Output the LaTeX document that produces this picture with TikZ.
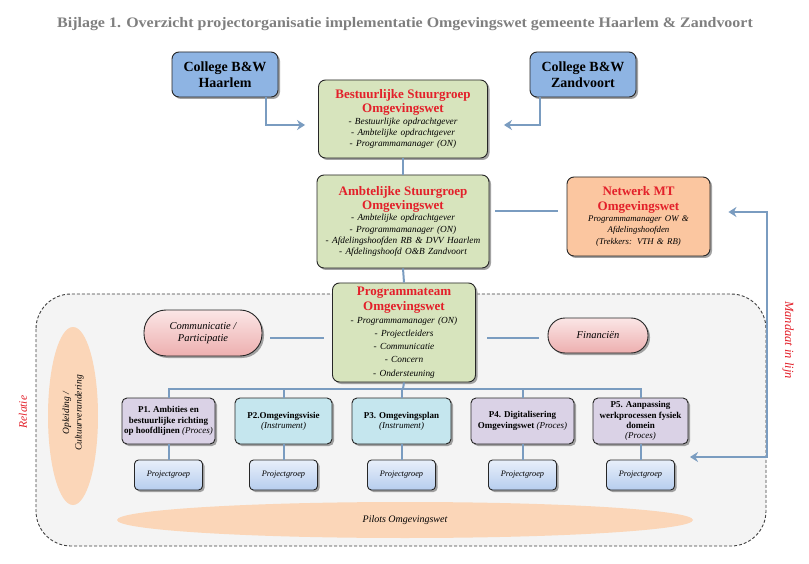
\documentclass[tikz,border=0pt]{standalone}
\usepackage{fontspec}
\setmainfont{Liberation Serif}
\usetikzlibrary{shadows,arrows.meta,calc,shapes.geometric}
\definecolor{titlegray}{HTML}{7F7F7F}
\definecolor{redt}{HTML}{E3202A}
\definecolor{linec}{HTML}{7A9CC0}
\definecolor{collegeblue}{HTML}{8EB4E3}
\definecolor{greenbox}{HTML}{D7E4BD}
\definecolor{orangebox}{HTML}{FBC6A0}
\definecolor{pinktop}{HTML}{FBE6E6}
\definecolor{pinkbot}{HTML}{EDAFAF}
\definecolor{purplebox}{HTML}{DAD2E6}
\definecolor{cyanbox}{HTML}{C5E6EE}
\definecolor{pgtop}{HTML}{E8EFFA}
\definecolor{pgbot}{HTML}{B6CDEE}
\definecolor{ellorange}{HTML}{FBD6B8}
\definecolor{regionfill}{HTML}{F4F4F4}
\newcommand{\myhdr}[1]{{\color{redt}\bfseries\fontsize{13}{14.5}\selectfont #1\par}}
\newcommand{\myitems}[1]{{\itshape\fontsize{9.3}{11.3}\selectfont #1\par}}
\begin{document}
\begin{tikzpicture}[x=1pt,y=-1pt,
  shadowed/.style={drop shadow={shadow xshift=2pt,shadow yshift=-2pt,fill=black!45,opacity=0.8}},
  box/.style={draw=black!85,line width=0.9pt,rounded corners=7pt,align=center,inner sep=2pt,shadowed},
  college/.style={box,fill=collegeblue,minimum width=106,minimum height=45,font=\bfseries\fontsize{14}{15.5}\selectfont},
  greenb/.style={box,fill=greenbox},
  pill/.style={box,rounded corners=17pt,top color=pinktop,bottom color=pinkbot,font=\itshape\fontsize{10.5}{12.5}\selectfont},
  pbox/.style={box,rounded corners=5pt,minimum height=46,font=\bfseries\fontsize{9}{10.3}\selectfont},
  pg/.style={box,rounded corners=4pt,top color=pgtop,bottom color=pgbot,minimum width=68,minimum height=30,font=\itshape\fontsize{8.3}{10}\selectfont},
  conn/.style={draw=linec,line width=2pt},
  arr/.style={conn,-{Stealth[length=8pt,width=10pt]}},
  ell/.style={ellipse,fill=ellorange,inner sep=0pt},
  redlab/.style={text=redt,font=\itshape\fontsize{12.5}{14}\selectfont}
]
\useasboundingbox (0,0) rectangle (809,564);
\fill[white] (0,0) rectangle (809,564);

\node[text=titlegray,xscale=1.1,font=\bfseries\fontsize{14.5}{16}\selectfont] (title) at (405,24)
  {Bijlage 1. Overzicht projectorganisatie implementatie Omgevingswet gemeente Haarlem \& Zandvoort};

% region
\draw[dashed,dash pattern=on 3pt off 2pt,line width=0.9pt,draw=black!75,fill=regionfill,rounded corners=35pt]
  (36,294) rectangle (766,546);

% ellipses
\node[ell,minimum width=50,minimum height=178] (opl) at (73,416) {};
\node[rotate=90,align=center,font=\itshape\fontsize{9.5}{12.5}\selectfont] (opltext) at (73,413) {Opleiding /\\Cultuurverandering};
\node[ell,minimum width=576,minimum height=36,font=\itshape\fontsize{10}{11}\selectfont] (pilots) at (405,520) {Pilots Omgevingswet};

\node[redlab,rotate=90,font=\itshape\fontsize{11.5}{13}\selectfont] (rel) at (23,412) {Relatie};
\node[redlab,rotate=-90] (mand) at (788,340) {Mandaat in lijn};

% top boxes
\node[college] (ch) at (225,74.5) {College B\&W\\Haarlem};
\node[college] (cz) at (583,74.5) {College B\&W\\Zandvoort};

\node[greenb,minimum width=169,minimum height=78,text width=162] (bs) at (403,119)
  {\myhdr{Bestuurlijke Stuurgroep\\Omgevingswet}\myitems{- Bestuurlijke opdrachtgever\\- Ambtelijke opdrachtgever\\- Programmamanager (ON)}};

\node[greenb,minimum width=172,minimum height=93,text width=168] (as) at (403,221.5)
  {\myhdr{Ambtelijke Stuurgroep\\Omgevingswet}\myitems{- Ambtelijke opdrachtgever\\- Programmamanager (ON)\\- Afdelingshoofden RB \& DVV Haarlem\\- Afdelingshoofd O\&B Zandvoort}};

\node[box,fill=orangebox,minimum width=143,minimum height=79,text width=136] (nw) at (638.5,216.5)
  {\myhdr{Netwerk MT\\Omgevingswet}{\itshape\fontsize{8.8}{11.3}\selectfont Programmamanager OW \&\\Afdelingshoofden\\(Trekkers: VTH \& RB)\par}};

\node[greenb,minimum width=143,minimum height=99,text width=138] (prog) at (404,332.5)
  {\myhdr{Programmateam\\Omgevingswet}{\itshape\fontsize{9.3}{13.2}\selectfont - Programmamanager (ON)\\- Projectleiders\\- Communicatie\\- Concern\\- Ondersteuning\par}};

\node[pill,minimum width=118,minimum height=46,align=center,rounded corners=22pt] (comm) at (203,333) {Communicatie /\\Participatie};
\node[pill,minimum width=100,minimum height=35] (fin) at (598,335.5) {Financiën};

% P boxes
\node[pbox,fill=purplebox,minimum width=93] (p1) at (168.5,421) {P1. Ambities en\\bestuurlijke richting\\op hoofdlijnen {\normalfont\itshape (Proces)}};
\node[pbox,fill=cyanbox,minimum width=97] (p2) at (283.5,421) {P2.Omgevingsvisie\\{\normalfont\itshape (Instrument)}};
\node[pbox,fill=cyanbox,minimum width=99] (p3) at (401.5,421) {P3. Omgevingsplan\\{\normalfont\itshape (Instrument)}};
\node[pbox,fill=purplebox,minimum width=103] (p4) at (522.5,421) {P4. Digitalisering\\Omgevingswet {\normalfont\itshape (Proces)}};
\node[pbox,fill=purplebox,minimum width=95] (p5) at (640.5,421) {P5. Aanpassing\\werkprocessen fysiek\\domein\\{\normalfont\itshape (Proces)}};

\node[pg] (g1) at (168.5,475) {Projectgroep};
\node[pg] (g2) at (283.5,475) {Projectgroep};
\node[pg] (g3) at (401.5,475) {Projectgroep};
\node[pg] (g4) at (522.5,475) {Projectgroep};
\node[pg] (g5) at (640.5,475) {Projectgroep};

% connectors
\coordinate (bus) at (403,389);
\draw[conn] (bs.south) -- (as.north);
\draw[conn] (as.south) -- (prog.north);
\draw[conn] (prog.south) -- (bus);
\draw[conn] (p1.north) |- (bus) -| (p5.north);
\draw[conn] (p2.north) -- (p2.north |- bus);
\draw[conn] (p3.north) -- (p3.north |- bus);
\draw[conn] (p4.north) -- (p4.north |- bus);
\foreach \i in {1,...,5} { \draw[conn] (p\i.south) -- (g\i.north); }

\draw[arr,shorten >=13pt] ([xshift=41pt]ch.south) |- ([yshift=-6pt]bs.west);
\draw[arr,shorten >=16pt] ([xshift=-43pt]cz.south) |- ([yshift=-6pt]bs.east);

\draw[conn,shorten <=6pt,shorten >=9pt] ([yshift=10.5pt]as.east) -- ([yshift=5.5pt]nw.west);
\draw[conn,shorten <=8pt,shorten >=8.5pt] ([yshift=-5pt]comm.east) -- ([yshift=-5.5pt]prog.west);
\draw[conn,shorten <=11.5pt,shorten >=9pt] ([yshift=-5.5pt]prog.east) -- ([yshift=-2.5pt]fin.west);

\coordinate (m1) at (767,212);
\coordinate (m2) at (767,457);
\coordinate (m3) at (690,457);
\draw[conn,{Stealth[length=8pt,width=10pt]}-{Stealth[length=8pt,width=10pt]},shorten <=18pt]
  ([yshift=4.5pt]nw.east) -- (m1) -- (m2) -- (m3);
\end{tikzpicture}
\end{document}
